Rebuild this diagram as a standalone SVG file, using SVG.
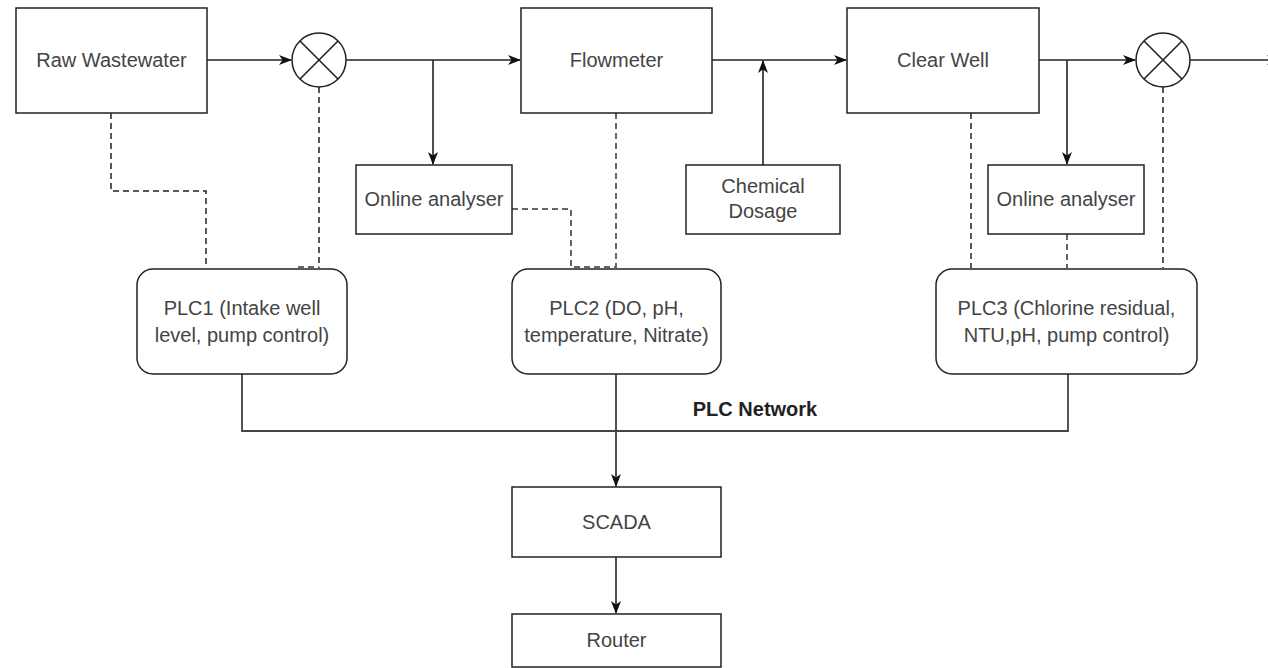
<svg xmlns="http://www.w3.org/2000/svg" width="1268" height="668" viewBox="0 0 1268 668">
<defs>
<marker id="arr" markerWidth="14" markerHeight="12" refX="12" refY="5" orient="auto" markerUnits="userSpaceOnUse">
<path d="M0,0 L13,5 L0,10 L3.5,5 z" fill="#111"/>
</marker>
<style>
.box{fill:#fff;stroke:#222;stroke-width:1.5}
.t{font-family:"Liberation Sans",Arial,sans-serif;font-size:20px;fill:#444;text-anchor:middle}
.b{font-weight:bold;fill:#222}
.flow{fill:none;stroke:#222;stroke-width:1.6}
.dash{fill:none;stroke:#222;stroke-width:1.5;stroke-dasharray:6,4}
.dashg{fill:none;stroke:#666;stroke-width:2;stroke-dasharray:6,4}
.net{fill:none;stroke:#444;stroke-width:1.8}
</style>
</defs>
<rect width="1268" height="668" fill="#fff"/>

<g id="connectors">
<line class="flow" x1="207" y1="60" x2="291" y2="60" marker-end="url(#arr)"/>
<line class="flow" x1="346" y1="60" x2="520" y2="60" marker-end="url(#arr)"/>
<line class="flow" x1="433" y1="60" x2="433" y2="164" marker-end="url(#arr)"/>
<line class="flow" x1="712" y1="60" x2="846" y2="60" marker-end="url(#arr)"/>
<line class="flow" x1="763" y1="165" x2="763" y2="61" marker-end="url(#arr)"/>
<line class="flow" x1="1039" y1="60" x2="1135" y2="60" marker-end="url(#arr)"/>
<line class="flow" x1="1067" y1="60" x2="1067" y2="164" marker-end="url(#arr)"/>
<line class="flow" x1="1190" y1="60" x2="1279" y2="60" marker-end="url(#arr)"/>
<line class="flow" x1="616" y1="374" x2="616" y2="486" marker-end="url(#arr)"/>
<line class="flow" x1="616" y1="557" x2="616" y2="613" marker-end="url(#arr)"/>
<polyline class="net" points="242,374 242,431 1068,431 1068,374"/>
<polyline class="dash" points="111,113 111,191 206,191 206,268"/>
<line class="dash" x1="319" y1="87" x2="319" y2="268"/>
<line class="dashg" x1="298" y1="267" x2="319" y2="267"/>
<line class="dashg" x1="616" y1="113" x2="616" y2="268"/>
<polyline class="dashg" points="512,209 571,209 571,267 616,267"/>
<line class="dash" x1="971" y1="113" x2="971" y2="268"/>
<line class="dashg" x1="1067" y1="234" x2="1067" y2="268"/>
<line class="dash" x1="1163" y1="87" x2="1163" y2="268"/>
</g>

<g id="raw-wastewater"><rect class="box" x="16" y="8" width="191" height="105"/><text class="t" x="111.5" y="67">Raw Wastewater</text></g>
<g id="valve1"><circle class="box" cx="319" cy="60" r="27"/><path class="flow" d="M300,41 L338,79 M338,41 L300,79"/></g>
<g id="flowmeter"><rect class="box" x="521" y="8" width="191" height="105"/><text class="t" x="616.5" y="67">Flowmeter</text></g>
<g id="clear-well"><rect class="box" x="847" y="8" width="192" height="105"/><text class="t" x="943" y="67">Clear Well</text></g>
<g id="valve2"><circle class="box" cx="1163" cy="60" r="27"/><path class="flow" d="M1144,41 L1182,79 M1182,41 L1144,79"/></g>
<g id="online-analyser-1"><rect class="box" x="356" y="165" width="156" height="69"/><text class="t" x="434" y="206">Online analyser</text></g>
<g id="chemical-dosage"><rect class="box" x="686" y="165" width="154" height="69"/><text class="t" x="763" y="193">Chemical</text><text class="t" x="763" y="218">Dosage</text></g>
<g id="online-analyser-2"><rect class="box" x="988" y="165" width="156" height="69"/><text class="t" x="1066" y="206">Online analyser</text></g>
<g id="plc1"><rect class="box" x="137" y="269" width="210" height="105" rx="16"/><text class="t" x="242" y="315">PLC1 (Intake well</text><text class="t" x="242" y="342">level, pump control)</text></g>
<g id="plc2"><rect class="box" x="512" y="269" width="209" height="105" rx="16"/><text class="t" x="616.5" y="315">PLC2 (DO, pH,</text><text class="t" x="616.5" y="342">temperature, Nitrate)</text></g>
<g id="plc3"><rect class="box" x="936" y="269" width="261" height="105" rx="16"/><text class="t" x="1066.5" y="315">PLC3 (Chlorine residual,</text><text class="t" x="1066.5" y="342">NTU,pH, pump control)</text></g>
<g id="plc-network-label"><text class="t b" x="755" y="416">PLC Network</text></g>
<g id="scada"><rect class="box" x="512" y="487" width="209" height="70"/><text class="t" x="616.5" y="529">SCADA</text></g>
<g id="router"><rect class="box" x="512" y="614" width="209" height="53"/><text class="t" x="616.5" y="647">Router</text></g>
</svg>
